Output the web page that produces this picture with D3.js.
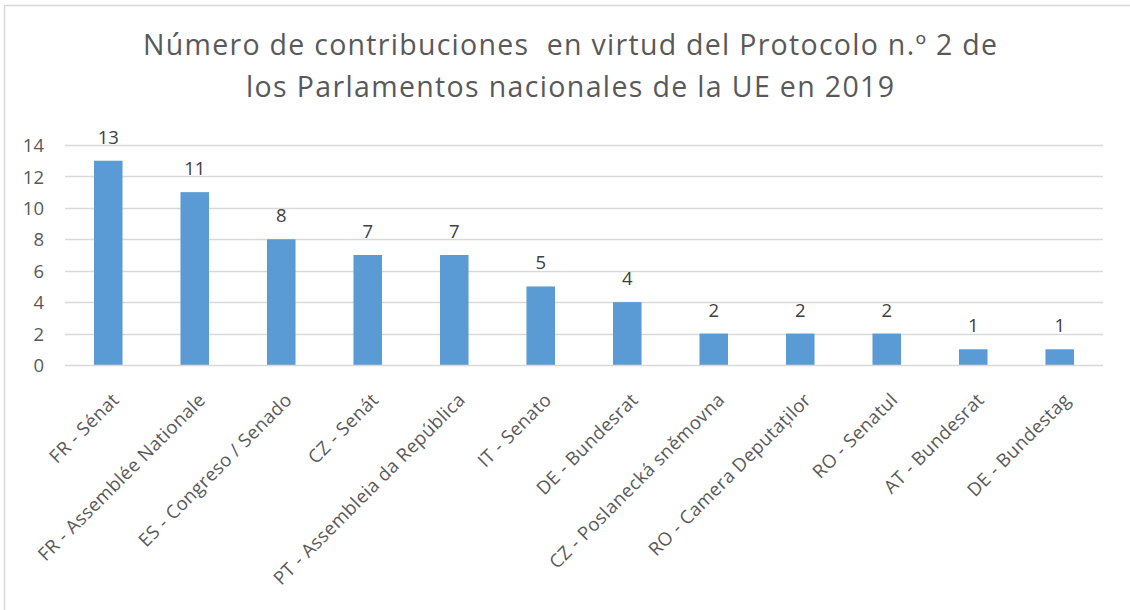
<!DOCTYPE html>
<html>
<head>
<meta charset="utf-8">
<script src="https://cdn.jsdelivr.net/npm/d3@7"></script>
<style>
  html, body { margin: 0; padding: 0; background: #fff; }
  svg { display: block; font-family: "Open Sans", Lato, sans-serif; }
</style>
</head>
<body>
<svg id="chart" width="1130" height="610"></svg>
<script>
const titleLines = [
  "Número de contribuciones  en virtud del Protocolo n.º 2 de",
  "los Parlamentos nacionales de la UE en 2019"
];
const categories = [
  "FR - Sénat",
  "FR - Assemblée Nationale",
  "ES - Congreso / Senado",
  "CZ - Senát",
  "PT - Assembleia da República",
  "IT - Senato",
  "DE - Bundesrat",
  "CZ - Poslanecká sněmovna",
  "RO - Camera Deputaților",
  "RO - Senatul",
  "AT - Bundesrat",
  "DE - Bundestag"
];
const values = [13, 11, 8, 7, 7, 5, 4, 2, 2, 2, 1, 1];
const yTicks = [0, 2, 4, 6, 8, 10, 12, 14];

const svg = d3.select("#chart");
const W = 1130, H = 610;
const margin = { left: 65, right: 27, top: 145, bottom: 245 };
const plotRight = W - margin.right;
const plotBottom = H - margin.bottom;

// outer chart border (only top & left visible)
svg.append("rect")
  .attr("x", 4.5).attr("y", 5.5)
  .attr("width", 1300).attr("height", 800)
  .attr("fill", "none").attr("stroke", "#d9d9d9").attr("stroke-width", 1.5);

const x = d3.scaleBand()
  .domain(categories)
  .range([margin.left, plotRight])
  .paddingInner(0.67).paddingOuter(0.335);

const y = d3.scaleLinear().domain([0, 14]).range([plotBottom, margin.top]);

// gridlines (excluding zero line, drawn later on top of bars)
svg.append("g")
  .selectAll("line")
  .data(yTicks.filter(d => d !== 0))
  .join("line")
  .attr("x1", margin.left).attr("x2", plotRight)
  .attr("y1", d => Math.round(y(d)) + 0.5).attr("y2", d => Math.round(y(d)) + 0.5)
  .attr("stroke", "#d9d9d9").attr("stroke-width", 1.3);

// y axis labels
const yAxis = d3.axisLeft(y).tickValues(yTicks).tickSize(0).tickPadding(0);
const yg = svg.append("g").attr("transform", `translate(${margin.left - 21},0)`).call(yAxis);
yg.select(".domain").remove();
yg.selectAll("text")
  .attr("font-family", "'Open Sans', sans-serif")
  .attr("font-size", 18.5).attr("fill", "#595959").attr("dy", "0.36em");

// bars
svg.append("g")
  .selectAll("rect")
  .data(values)
  .join("rect")
  .attr("x", (d, i) => x(categories[i]))
  .attr("width", x.bandwidth())
  .attr("y", d => y(d))
  .attr("height", d => plotBottom - y(d))
  .attr("fill", "#5b9bd5");

// zero axis line on top
svg.append("line")
  .attr("x1", margin.left).attr("x2", plotRight)
  .attr("y1", Math.round(y(0)) + 0.5).attr("y2", Math.round(y(0)) + 0.5)
  .attr("stroke", "#d9d9d9").attr("stroke-width", 1.5);

// value labels
svg.append("g")
  .selectAll("text")
  .data(values)
  .join("text")
  .attr("x", (d, i) => x(categories[i]) + x.bandwidth() / 2)
  .attr("y", d => y(d) - 17)
  .attr("text-anchor", "middle")
  .attr("font-size", 18.5)
  .attr("fill", "#404040")
  .text(d => d);

// x axis labels (rotated)
const xAxis = d3.axisBottom(x).tickSize(0).tickPadding(0);
const xg = svg.append("g").attr("transform", `translate(0,${plotBottom})`).call(xAxis);
xg.select(".domain").remove();
xg.selectAll("text")
  .attr("font-family", "'Open Sans', sans-serif")
  .attr("font-size", 18.5)
  .attr("letter-spacing", 0.4)
  .attr("fill", "#595959")
  .attr("text-anchor", "end")
  .attr("dy", null)
  .attr("y", 0)
  .attr("transform", "translate(12,36) rotate(-45)");

// title
const titleWidths = [854, 648];
svg.append("g")
  .selectAll("text")
  .data(titleLines)
  .join("text")
  .attr("x", 570)
  .attr("y", (d, i) => 55 + i * 42)
  .attr("text-anchor", "middle")
  .attr("font-size", 28.5)
  .attr("fill", "#595959")
  .attr("textLength", (d, i) => titleWidths[i])
  .attr("lengthAdjust", "spacing")
  .style("white-space", "pre")
  .text(d => d);
</script>
</body>
</html>
